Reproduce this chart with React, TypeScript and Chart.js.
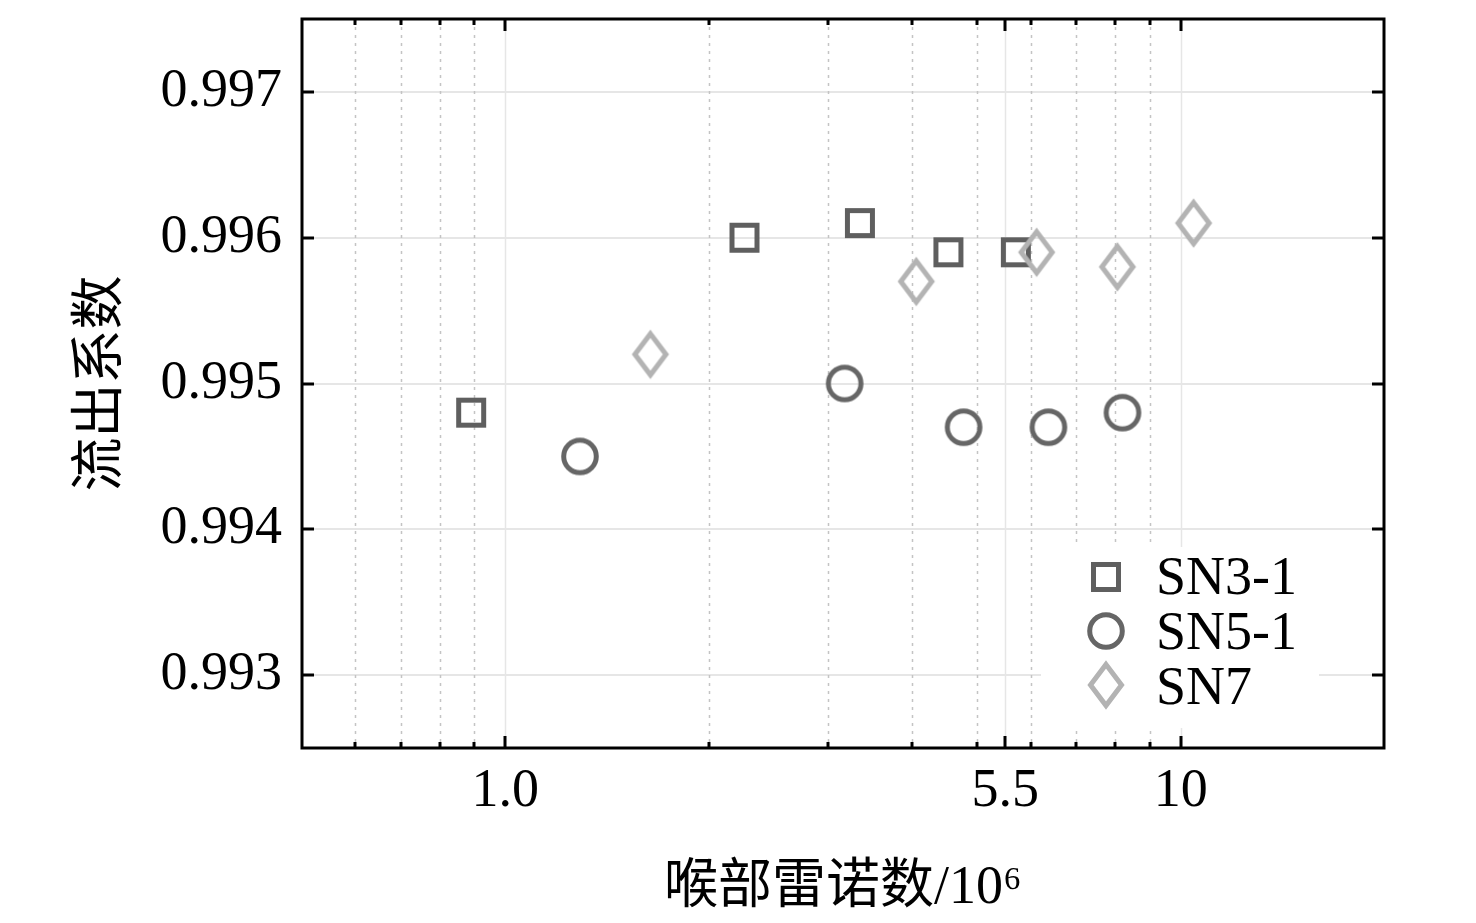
import React, { useEffect, useRef } from "react";
import { Chart, registerables } from "chart.js";

Chart.register(...registerables);

// ---------- data ----------
const seriesNames = ["SN3-1", "SN5-1", "SN7"];
const sn31X = [0.89, 2.26, 3.35, 4.53, 5.7];
const sn31Y = [0.9948, 0.996, 0.9961, 0.9959, 0.9959];
const sn51X = [1.29, 3.18, 4.77, 6.37, 8.2];
const sn51Y = [0.9945, 0.995, 0.9947, 0.9947, 0.9948];
const sn7X = [1.64, 4.06, 6.12, 8.06, 10.45];
const sn7Y = [0.9952, 0.9957, 0.9959, 0.9958, 0.9961];

const xMajorTicks = [1, 5.5, 10];
const xMajorLabels = ["1.0", "5.5", "10"];
const xMinorTicks = [0.6, 0.7, 0.8, 0.9, 2, 3, 4, 5, 6, 7, 8, 9];
const yTicks = [0.993, 0.994, 0.995, 0.996, 0.997];
const yTickLabels = ["0.993", "0.994", "0.995", "0.996", "0.997"];
const xTitle = "喉部雷诺数/10⁶";
const yTitle = "流出系数";

const FONT = '"Liberation Serif", "Times New Roman", "Noto Sans CJK SC", serif';

function makeSquare(color: string) {
  const c = document.createElement("canvas");
  c.width = 32; c.height = 32;
  const g = c.getContext("2d")!;
  g.strokeStyle = color; g.lineWidth = 5; g.lineJoin = "miter";
  g.strokeRect(3.5, 3.5, 25, 25);
  return c;
}
function makeCircle(color: string) {
  const c = document.createElement("canvas");
  c.width = 40; c.height = 40;
  const g = c.getContext("2d")!;
  g.strokeStyle = color; g.lineWidth = 5;
  g.beginPath(); g.arc(20, 20, 16.3, 0, Math.PI * 2); g.stroke();
  return c;
}
function makeDiamond(color: string) {
  const c = document.createElement("canvas");
  c.width = 42; c.height = 54;
  const g = c.getContext("2d")!;
  g.strokeStyle = color; g.lineWidth = 5; g.lineJoin = "miter";
  g.beginPath();
  g.moveTo(21, 27 - 20.5);
  g.lineTo(21 + 15.5, 27);
  g.lineTo(21, 27 + 20.5);
  g.lineTo(21 - 15.5, 27);
  g.closePath();
  g.stroke();
  return c;
}

const framePlugin = {
  id: "frameGrid",
  beforeDatasetsDraw(chart: any) {
    const { ctx, chartArea: a, scales } = chart;
    const xs = scales.x, ys = scales.y;
    ctx.save();
    ctx.strokeStyle = "#e6e6e6";
    ctx.lineWidth = 2;
    yTicks.forEach((v) => {
      const y = Math.round(ys.getPixelForValue(v));
      ctx.beginPath(); ctx.moveTo(a.left, y); ctx.lineTo(a.right, y); ctx.stroke();
    });
    ctx.lineWidth = 1.5;
    xMajorTicks.forEach((v) => {
      const x = Math.round(xs.getPixelForValue(v)) + 0.5;
      ctx.beginPath(); ctx.moveTo(x, a.top); ctx.lineTo(x, a.bottom); ctx.stroke();
    });
    ctx.setLineDash([3, 5]);
    ctx.strokeStyle = "#c4c4c4";
    xMinorTicks.forEach((v) => {
      const x = Math.round(xs.getPixelForValue(v)) + 0.5;
      ctx.beginPath(); ctx.moveTo(x, a.top); ctx.lineTo(x, a.bottom); ctx.stroke();
    });
    ctx.restore();
  },
  afterDatasetsDraw(chart: any) {
    const { ctx, chartArea: a, scales } = chart;
    const xs = scales.x, ys = scales.y;
    ctx.save();
    // legend box
    ctx.fillStyle = "#ffffff";
    ctx.fillRect(a.right - 343, a.bottom - 201, 278, 181);
    const markerYs = [a.bottom - 171, a.bottom - 117, a.bottom - 63.5];
    const textYs = [a.bottom - 154, a.bottom - 99, a.bottom - 44];
    chart.data.datasets.forEach((ds: any, i: number) => {
      const img = ds.pointStyle as HTMLCanvasElement;
      ctx.drawImage(img, Math.round(a.right - 278 - img.width / 2), Math.round(markerYs[i] - img.height / 2));
      ctx.fillStyle = "#000";
      ctx.font = `54px ${FONT}`;
      ctx.textBaseline = "alphabetic";
      ctx.textAlign = "left";
      ctx.fillText(ds.label, a.right - 228, textYs[i]);
    });
    // frame
    ctx.strokeStyle = "#000";
    ctx.lineWidth = 3;
    ctx.strokeRect(a.left, a.top, a.right - a.left, a.bottom - a.top);
    // ticks (inward)
    const tickX = (v: number, len: number) => {
      const x = Math.round(xs.getPixelForValue(v));
      ctx.beginPath(); ctx.moveTo(x, a.bottom); ctx.lineTo(x, a.bottom - len); ctx.stroke();
      ctx.beginPath(); ctx.moveTo(x, a.top); ctx.lineTo(x, a.top + len); ctx.stroke();
    };
    xMajorTicks.forEach((v) => tickX(v, 12));
    xMinorTicks.forEach((v) => tickX(v, 6));
    yTicks.forEach((v) => {
      const y = Math.round(ys.getPixelForValue(v));
      ctx.beginPath(); ctx.moveTo(a.left, y); ctx.lineTo(a.left + 12, y); ctx.stroke();
      ctx.beginPath(); ctx.moveTo(a.right, y); ctx.lineTo(a.right - 12, y); ctx.stroke();
    });
    ctx.restore();
  },
};

export default function App() {
  const ref = useRef<HTMLCanvasElement | null>(null);
  useEffect(() => {
    const canvas = ref.current;
    if (!canvas) return;
    const sq = makeSquare("#5f5f5f");
    const ci = makeCircle("#666666");
    const di = makeDiamond("#b3b3b3");
    const toPts = (xs: number[], ys: number[]) => xs.map((x, i) => ({ x, y: ys[i] }));
    const chart = new Chart(canvas, {
      type: "scatter",
      data: {
        datasets: [
          { label: seriesNames[0], data: toPts(sn31X, sn31Y), pointStyle: sq as any, pointRadius: 15, order: 3 },
          { label: seriesNames[1], data: toPts(sn51X, sn51Y), pointStyle: ci as any, pointRadius: 18, order: 2 },
          { label: seriesNames[2], data: toPts(sn7X, sn7Y), pointStyle: di as any, pointRadius: 18, order: 1 },
        ],
      },
      options: {
        animation: false,
        responsive: true,
        maintainAspectRatio: false,
        layout: { padding: { left: 0, top: 16, right: 92, bottom: 0 } },
        plugins: { legend: { display: false }, tooltip: { enabled: false } },
        scales: {
          x: {
            type: "logarithmic",
            min: 0.5,
            max: 20,
            grid: { display: false },
            border: { display: false },
            afterBuildTicks: (s: any) => { s.ticks = xMajorTicks.map((v) => ({ value: v })); },
            afterFit: (s: any) => { s.height = 175; s.paddingLeft = 0; s.paddingRight = 0; },
            ticks: {
              autoSkip: false,
              maxRotation: 0,
              minRotation: 0,
              padding: 3,
              color: "#000",
              font: { family: FONT, size: 54 },
              callback: (v: any) => {
                const i = xMajorTicks.indexOf(Number(v));
                return i >= 0 ? xMajorLabels[i] : "";
              },
            },
            title: {
              display: true,
              text: xTitle,
              color: "#000",
              font: { family: FONT, size: 54 },
              padding: { top: 0, bottom: 2 },
            },
          },
          y: {
            type: "linear",
            min: 0.9925,
            max: 0.9975,
            grid: { display: false },
            border: { display: false },
            afterBuildTicks: (s: any) => { s.ticks = yTicks.map((v) => ({ value: v })); },
            afterFit: (s: any) => { s.width = 302; s.paddingTop = 0; s.paddingBottom = 0; },
            ticks: {
              autoSkip: false,
              padding: 12,
              color: "#000",
              font: { family: FONT, size: 54 },
              callback: (v: any) => {
                const i = yTicks.findIndex((t) => Math.abs(t - Number(v)) < 1e-7);
                return i >= 0 ? yTickLabels[i] : "";
              },
            },
            title: {
              display: true,
              text: yTitle,
              color: "#000",
              font: { family: FONT, size: 54 },
              padding: { top: 70, bottom: 0 },
            },
          },
        },
      },
      plugins: [framePlugin],
    });
    return () => chart.destroy();
  }, []);
  return (
    <div style={{ position: "fixed", left: 0, top: 0, width: 1476, height: 923, background: "#fff" }}>
      <canvas ref={ref} />
    </div>
  );
}
